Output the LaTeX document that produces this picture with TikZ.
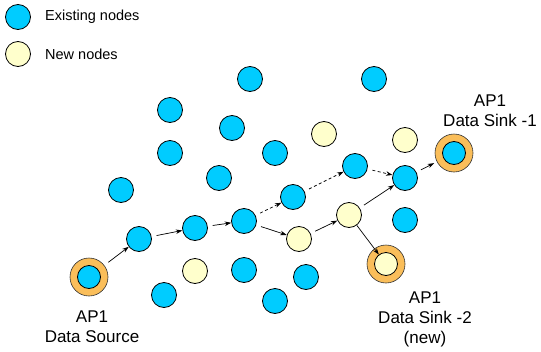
\documentclass[tikz,border=0pt]{standalone}
\usepackage{fontspec}
\setmainfont{Liberation Sans}
\usetikzlibrary{arrows.meta}
\definecolor{blueC}{RGB}{0,204,255}
\definecolor{newC}{RGB}{255,255,204}
\definecolor{ringC}{RGB}{250,190,90}
\begin{document}
\begin{tikzpicture}[x=1pt,y=-1pt,
  ex/.style={circle, draw=black, fill=blueC, minimum size=25pt, inner sep=0pt, line width=0.8pt},
  nw/.style={circle, draw=black, fill=newC, minimum size=25pt, inner sep=0pt, line width=0.8pt},
  ring/.style={circle, draw=black!80, fill=ringC, minimum size=38pt, inner sep=0pt, line width=0.6pt},
  exin/.style={ex, minimum size=23pt},
  nwin/.style={nw, minimum size=23pt},
  lab/.style={font=\fontsize{17}{20}\selectfont, align=center, inner sep=0pt},
  leg/.style={font=\fontsize{14.5}{17}\selectfont, anchor=west, inner sep=0pt},
  arr/.style={-{Stealth[length=6.5pt,width=4.5pt]}, line width=0.7pt, shorten <=5pt},
  darr/.style={arr, dash pattern=on 3pt off 2.5pt}]
\useasboundingbox (0,0) rectangle (541,351);
% legend
\node[ex] (lgE) at (18,17) {};
\node[leg] (lgEt) at (45,17) {Existing nodes};
\node[nw] (lgN) at (18,54) {};
\node[leg] (lgNt) at (45,54) {New nodes};
% existing nodes
\node[ex] (e1) at (250,79) {};
\node[ex] (e2) at (374,79) {};
\node[ex] (e3) at (170,110) {};
\node[ex] (e4) at (232,128) {};
\node[ex] (e5) at (170,153) {};
\node[ex] (e6) at (275,153) {};
\node[ex] (e7) at (219,178) {};
\node[ex] (e8) at (121,190) {};
\node[ex] (e9) at (293,197) {};
\node[ex] (e10) at (355,166) {};
\node[ex] (e11) at (405,178) {};
\node[ex] (e12) at (405,220) {};
\node[ex] (e13) at (139,239) {};
\node[ex] (e14) at (195,228) {};
\node[ex] (e15) at (244,221) {};
\node[ex] (e16) at (244,270) {};
\node[ex] (e17) at (306,277) {};
\node[ex] (e18) at (164,295) {};
\node[ex] (e19) at (275,301) {};
% new nodes
\node[nw] (n1) at (324,134) {};
\node[nw] (n2) at (405,140) {};
\node[nw] (n3) at (195,271) {};
\node[nw] (n4) at (299,239) {};
\node[nw] (n5) at (349,215) {};
% source and sinks
\node[ring] (srcR) at (89,277) {};
\node[exin] (src) at (89,277) {};
\node[ring] (s1R) at (454,153) {};
\node[exin] (s1) at (454,153) {};
\node[ring] (s2R) at (386,264) {};
\node[nwin] (s2) at (386,264) {};
% labels
\node[lab] (srcL) at (92,327) {AP1\\Data Source};
\node[lab] (s1L) at (490,111) {AP1\\Data Sink -1};
\node[lab] (s2L) at (425,319) {AP1\\Data Sink -2\\(new)};
% connectors
\draw[arr] (srcR) -- (e13);
\draw[arr] (e13) -- (e14);
\draw[arr] (e14) -- (e15);
\draw[arr] (e15) -- (n4);
\draw[arr] (n4) -- (n5);
\draw[arr] (n5) -- (e11);
\draw[arr, shorten >=3pt] (e11) -- (s1R);
\draw[arr, shorten <=0pt] (n5) -- (s2);
\draw[darr] (e15) -- (e9);
\draw[darr] (e9) -- (e10);
\draw[darr] (e10) -- (e11);
\end{tikzpicture}
\end{document}
